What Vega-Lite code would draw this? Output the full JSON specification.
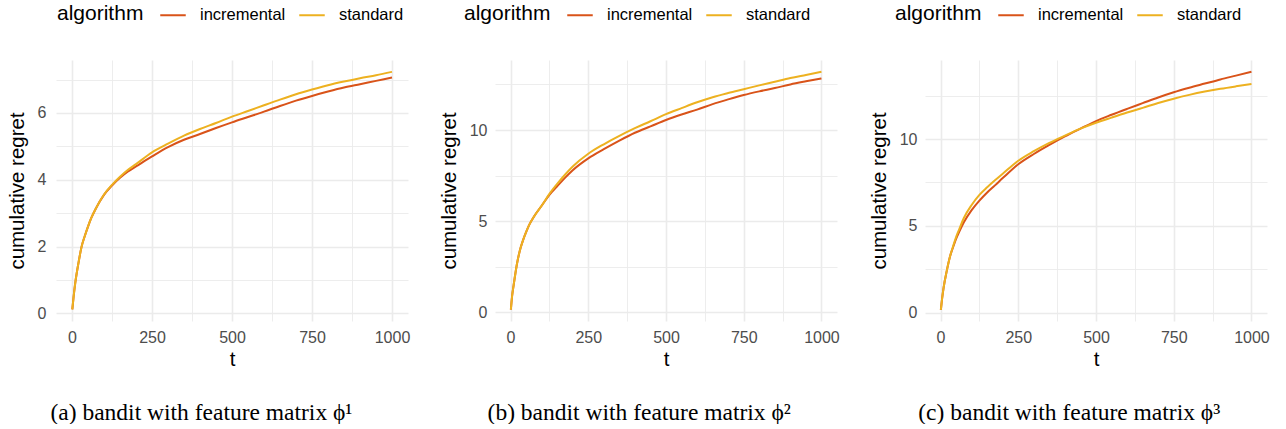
{
  "$schema": "https://vega.github.io/schema/vega-lite/v6.json",
  "background": "white",
  "padding": {"left": 7, "top": 1, "right": 0, "bottom": 0},
  "spacing": 29,
  "config": {
    "view": {"stroke": null},
    "font": "Liberation Sans",
    "axis": {"ticks": false, "domain": false, "gridColor": "#EBEBEB", "labelFont": "Liberation Sans", "labelFontSize": 16, "labelColor": "#4D4D4D", "titleFont": "Liberation Sans", "titleFontSize": 20.5, "titleFontWeight": "normal", "titleColor": "#000000"},
    "legend": {"orient": "none", "direction": "horizontal", "titleOrient": "left", "titleAnchor": "end", "titleBaseline": "bottom", "titleFont": "Liberation Sans", "titleFontSize": 21, "titleFontWeight": "normal", "titleColor": "#000000", "labelFont": "Liberation Sans", "labelFontSize": 16.5, "labelColor": "#000000", "symbolType": "stroke", "symbolStrokeWidth": 2, "symbolSize": 650, "labelOffset": 13, "titlePadding": 15, "columnPadding": 9, "legendX": 1, "legendY": -59},
    "title": {"font": "Liberation Serif", "fontSize": 23.5, "fontWeight": "normal", "color": "#000000", "orient": "bottom", "anchor": "middle", "frame": "bounds", "offset": 31}
  },
  "resolve": {"scale": {"x": "independent", "y": "independent", "color": "independent"}, "legend": {"color": "independent"}},
  "datasets": {
    "p1": [
      {"t":1,"algorithm":"incremental","regret":0.12},{"t":5,"algorithm":"incremental","regret":0.5},{"t":10,"algorithm":"incremental","regret":0.9},{"t":20,"algorithm":"incremental","regret":1.5},{"t":30,"algorithm":"incremental","regret":2.0},{"t":40,"algorithm":"incremental","regret":2.32},{"t":50,"algorithm":"incremental","regret":2.6},{"t":60,"algorithm":"incremental","regret":2.85},{"t":75,"algorithm":"incremental","regret":3.15},{"t":100,"algorithm":"incremental","regret":3.55},{"t":125,"algorithm":"incremental","regret":3.83},{"t":150,"algorithm":"incremental","regret":4.06},{"t":175,"algorithm":"incremental","regret":4.25},{"t":200,"algorithm":"incremental","regret":4.4},{"t":250,"algorithm":"incremental","regret":4.7},{"t":300,"algorithm":"incremental","regret":4.98},{"t":350,"algorithm":"incremental","regret":5.2},{"t":400,"algorithm":"incremental","regret":5.37},{"t":450,"algorithm":"incremental","regret":5.55},{"t":500,"algorithm":"incremental","regret":5.72},{"t":550,"algorithm":"incremental","regret":5.88},{"t":600,"algorithm":"incremental","regret":6.04},{"t":650,"algorithm":"incremental","regret":6.21},{"t":700,"algorithm":"incremental","regret":6.37},{"t":750,"algorithm":"incremental","regret":6.51},{"t":800,"algorithm":"incremental","regret":6.64},{"t":850,"algorithm":"incremental","regret":6.76},{"t":900,"algorithm":"incremental","regret":6.86},{"t":950,"algorithm":"incremental","regret":6.96},{"t":1000,"algorithm":"incremental","regret":7.06},
      {"t":1,"algorithm":"standard","regret":0.12},{"t":5,"algorithm":"standard","regret":0.5},{"t":10,"algorithm":"standard","regret":0.9},{"t":20,"algorithm":"standard","regret":1.5},{"t":30,"algorithm":"standard","regret":2.0},{"t":40,"algorithm":"standard","regret":2.32},{"t":50,"algorithm":"standard","regret":2.6},{"t":60,"algorithm":"standard","regret":2.85},{"t":75,"algorithm":"standard","regret":3.15},{"t":100,"algorithm":"standard","regret":3.56},{"t":125,"algorithm":"standard","regret":3.85},{"t":150,"algorithm":"standard","regret":4.09},{"t":175,"algorithm":"standard","regret":4.3},{"t":200,"algorithm":"standard","regret":4.47},{"t":250,"algorithm":"standard","regret":4.82},{"t":300,"algorithm":"standard","regret":5.08},{"t":350,"algorithm":"standard","regret":5.32},{"t":400,"algorithm":"standard","regret":5.52},{"t":450,"algorithm":"standard","regret":5.7},{"t":500,"algorithm":"standard","regret":5.89},{"t":550,"algorithm":"standard","regret":6.06},{"t":600,"algorithm":"standard","regret":6.23},{"t":650,"algorithm":"standard","regret":6.4},{"t":700,"algorithm":"standard","regret":6.56},{"t":750,"algorithm":"standard","regret":6.7},{"t":800,"algorithm":"standard","regret":6.83},{"t":850,"algorithm":"standard","regret":6.94},{"t":900,"algorithm":"standard","regret":7.04},{"t":950,"algorithm":"standard","regret":7.13},{"t":1000,"algorithm":"standard","regret":7.23}
    ],
    "p2": [
      {"t":1,"algorithm":"incremental","regret":0.15},{"t":5,"algorithm":"incremental","regret":0.9},{"t":10,"algorithm":"incremental","regret":1.5},{"t":20,"algorithm":"incremental","regret":2.6},{"t":30,"algorithm":"incremental","regret":3.4},{"t":40,"algorithm":"incremental","regret":3.95},{"t":50,"algorithm":"incremental","regret":4.4},{"t":60,"algorithm":"incremental","regret":4.8},{"t":75,"algorithm":"incremental","regret":5.25},{"t":100,"algorithm":"incremental","regret":5.85},{"t":125,"algorithm":"incremental","regret":6.45},{"t":150,"algorithm":"incremental","regret":6.92},{"t":175,"algorithm":"incremental","regret":7.38},{"t":200,"algorithm":"incremental","regret":7.8},{"t":250,"algorithm":"incremental","regret":8.45},{"t":300,"algorithm":"incremental","regret":8.95},{"t":350,"algorithm":"incremental","regret":9.42},{"t":400,"algorithm":"incremental","regret":9.85},{"t":450,"algorithm":"incremental","regret":10.2},{"t":500,"algorithm":"incremental","regret":10.55},{"t":550,"algorithm":"incremental","regret":10.85},{"t":600,"algorithm":"incremental","regret":11.12},{"t":650,"algorithm":"incremental","regret":11.42},{"t":700,"algorithm":"incremental","regret":11.68},{"t":750,"algorithm":"incremental","regret":11.92},{"t":800,"algorithm":"incremental","regret":12.12},{"t":850,"algorithm":"incremental","regret":12.3},{"t":900,"algorithm":"incremental","regret":12.5},{"t":950,"algorithm":"incremental","regret":12.67},{"t":1000,"algorithm":"incremental","regret":12.83},
      {"t":1,"algorithm":"standard","regret":0.15},{"t":5,"algorithm":"standard","regret":0.9},{"t":10,"algorithm":"standard","regret":1.5},{"t":20,"algorithm":"standard","regret":2.6},{"t":30,"algorithm":"standard","regret":3.4},{"t":40,"algorithm":"standard","regret":3.95},{"t":50,"algorithm":"standard","regret":4.4},{"t":60,"algorithm":"standard","regret":4.8},{"t":75,"algorithm":"standard","regret":5.25},{"t":100,"algorithm":"standard","regret":5.85},{"t":125,"algorithm":"standard","regret":6.5},{"t":150,"algorithm":"standard","regret":7.05},{"t":175,"algorithm":"standard","regret":7.55},{"t":200,"algorithm":"standard","regret":8.0},{"t":250,"algorithm":"standard","regret":8.7},{"t":300,"algorithm":"standard","regret":9.22},{"t":350,"algorithm":"standard","regret":9.68},{"t":400,"algorithm":"standard","regret":10.1},{"t":450,"algorithm":"standard","regret":10.48},{"t":500,"algorithm":"standard","regret":10.87},{"t":550,"algorithm":"standard","regret":11.2},{"t":600,"algorithm":"standard","regret":11.52},{"t":650,"algorithm":"standard","regret":11.8},{"t":700,"algorithm":"standard","regret":12.03},{"t":750,"algorithm":"standard","regret":12.24},{"t":800,"algorithm":"standard","regret":12.45},{"t":850,"algorithm":"standard","regret":12.65},{"t":900,"algorithm":"standard","regret":12.85},{"t":950,"algorithm":"standard","regret":13.02},{"t":1000,"algorithm":"standard","regret":13.19}
    ],
    "p3": [
      {"t":1,"algorithm":"incremental","regret":0.15},{"t":5,"algorithm":"incremental","regret":0.8},{"t":10,"algorithm":"incremental","regret":1.45},{"t":20,"algorithm":"incremental","regret":2.4},{"t":30,"algorithm":"incremental","regret":3.2},{"t":40,"algorithm":"incremental","regret":3.75},{"t":50,"algorithm":"incremental","regret":4.25},{"t":60,"algorithm":"incremental","regret":4.65},{"t":75,"algorithm":"incremental","regret":5.2},{"t":100,"algorithm":"incremental","regret":5.9},{"t":125,"algorithm":"incremental","regret":6.45},{"t":150,"algorithm":"incremental","regret":6.92},{"t":175,"algorithm":"incremental","regret":7.33},{"t":200,"algorithm":"incremental","regret":7.75},{"t":250,"algorithm":"incremental","regret":8.55},{"t":300,"algorithm":"incremental","regret":9.14},{"t":350,"algorithm":"incremental","regret":9.66},{"t":400,"algorithm":"incremental","regret":10.15},{"t":450,"algorithm":"incremental","regret":10.6},{"t":500,"algorithm":"incremental","regret":11.04},{"t":550,"algorithm":"incremental","regret":11.4},{"t":600,"algorithm":"incremental","regret":11.74},{"t":650,"algorithm":"incremental","regret":12.07},{"t":700,"algorithm":"incremental","regret":12.4},{"t":750,"algorithm":"incremental","regret":12.7},{"t":800,"algorithm":"incremental","regret":12.96},{"t":850,"algorithm":"incremental","regret":13.2},{"t":900,"algorithm":"incremental","regret":13.44},{"t":950,"algorithm":"incremental","regret":13.66},{"t":1000,"algorithm":"incremental","regret":13.88},
      {"t":1,"algorithm":"standard","regret":0.15},{"t":5,"algorithm":"standard","regret":0.8},{"t":10,"algorithm":"standard","regret":1.45},{"t":20,"algorithm":"standard","regret":2.4},{"t":30,"algorithm":"standard","regret":3.2},{"t":40,"algorithm":"standard","regret":3.8},{"t":50,"algorithm":"standard","regret":4.35},{"t":60,"algorithm":"standard","regret":4.8},{"t":75,"algorithm":"standard","regret":5.45},{"t":100,"algorithm":"standard","regret":6.2},{"t":125,"algorithm":"standard","regret":6.78},{"t":150,"algorithm":"standard","regret":7.22},{"t":175,"algorithm":"standard","regret":7.62},{"t":200,"algorithm":"standard","regret":8.0},{"t":250,"algorithm":"standard","regret":8.75},{"t":300,"algorithm":"standard","regret":9.3},{"t":350,"algorithm":"standard","regret":9.78},{"t":400,"algorithm":"standard","regret":10.2},{"t":450,"algorithm":"standard","regret":10.6},{"t":500,"algorithm":"standard","regret":10.94},{"t":550,"algorithm":"standard","regret":11.24},{"t":600,"algorithm":"standard","regret":11.53},{"t":650,"algorithm":"standard","regret":11.8},{"t":700,"algorithm":"standard","regret":12.08},{"t":750,"algorithm":"standard","regret":12.33},{"t":800,"algorithm":"standard","regret":12.55},{"t":850,"algorithm":"standard","regret":12.74},{"t":900,"algorithm":"standard","regret":12.9},{"t":950,"algorithm":"standard","regret":13.04},{"t":1000,"algorithm":"standard","regret":13.17}
    ]
  },
  "hconcat": [
    {
      "width": 352, "height": 261,
      "data": {"name": "p1"},
      "title": {"text": "(a) bandit with feature matrix ϕ¹", "dx": -7},
      "mark": {"type": "line", "strokeWidth": 2, "interpolate": "monotone"},
      "encoding": {
        "x": {"field": "t", "type": "quantitative", "scale": {"domain": [-50, 1050], "nice": false, "zero": false},
          "axis": {"title": "t", "format": "d", "values": [0,125,250,375,500,625,750,875,1000], "labelExpr": "datum.value % 250 === 0 ? datum.label : ''", "gridWidth": {"condition": {"test": "datum.value % 250 === 0", "value": 1.6}, "value": 0.9}, "labelPadding": 8, "titlePadding": 4}},
        "y": {"field": "regret", "type": "quantitative", "scale": {"domain": [-0.225, 7.585], "nice": false, "zero": false},
          "axis": {"title": "cumulative regret", "format": "d", "values": [0,1,2,3,4,5,6,7], "labelExpr": "datum.value % 2 === 0 ? datum.label : ''", "gridWidth": {"condition": {"test": "datum.value % 2 === 0", "value": 1.6}, "value": 0.9}, "labelPadding": 10, "titlePadding": 10}},
        "color": {"field": "algorithm", "type": "nominal", "scale": {"domain": ["incremental", "standard"], "range": ["#D95319", "#EDB120"]}, "legend": {"title": "algorithm"}}
      }
    },
    {
      "width": 342, "height": 261,
      "data": {"name": "p2"},
      "title": {"text": "(b) bandit with feature matrix ϕ²"},
      "mark": {"type": "line", "strokeWidth": 2, "interpolate": "monotone"},
      "encoding": {
        "x": {"field": "t", "type": "quantitative", "scale": {"domain": [-50, 1050], "nice": false, "zero": false},
          "axis": {"title": "t", "format": "d", "values": [0,125,250,375,500,625,750,875,1000], "labelExpr": "datum.value % 250 === 0 ? datum.label : ''", "gridWidth": {"condition": {"test": "datum.value % 250 === 0", "value": 1.6}, "value": 0.9}, "labelPadding": 8, "titlePadding": 4}},
        "y": {"field": "regret", "type": "quantitative", "scale": {"domain": [-0.47, 13.84], "nice": false, "zero": false},
          "axis": {"title": "cumulative regret", "format": "d", "values": [0,2.5,5,7.5,10,12.5], "labelExpr": "datum.value % 5 === 0 ? datum.label : ''", "gridWidth": {"condition": {"test": "datum.value % 5 === 0", "value": 1.6}, "value": 0.9}, "labelPadding": 8, "titlePadding": 10}},
        "color": {"field": "algorithm", "type": "nominal", "scale": {"domain": ["incremental", "standard"], "range": ["#D95319", "#EDB120"]}, "legend": {"title": "algorithm", "legendX": -31}}
      }
    },
    {
      "width": 342, "height": 261,
      "data": {"name": "p3"},
      "title": {"text": "(c) bandit with feature matrix ϕ³"},
      "mark": {"type": "line", "strokeWidth": 2, "interpolate": "monotone"},
      "encoding": {
        "x": {"field": "t", "type": "quantitative", "scale": {"domain": [-50, 1050], "nice": false, "zero": false},
          "axis": {"title": "t", "format": "d", "values": [0,125,250,375,500,625,750,875,1000], "labelExpr": "datum.value % 250 === 0 ? datum.label : ''", "gridWidth": {"condition": {"test": "datum.value % 250 === 0", "value": 1.6}, "value": 0.9}, "labelPadding": 8, "titlePadding": 4}},
        "y": {"field": "regret", "type": "quantitative", "scale": {"domain": [-0.49, 14.56], "nice": false, "zero": false},
          "axis": {"title": "cumulative regret", "format": "d", "values": [0,2.5,5,7.5,10,12.5], "labelExpr": "datum.value % 5 === 0 ? datum.label : ''", "gridWidth": {"condition": {"test": "datum.value % 5 === 0", "value": 1.6}, "value": 0.9}, "labelPadding": 8, "titlePadding": 10}},
        "color": {"field": "algorithm", "type": "nominal", "scale": {"domain": ["incremental", "standard"], "range": ["#D95319", "#EDB120"]}, "legend": {"title": "algorithm", "legendX": -30}}
      }
    }
  ]
}
